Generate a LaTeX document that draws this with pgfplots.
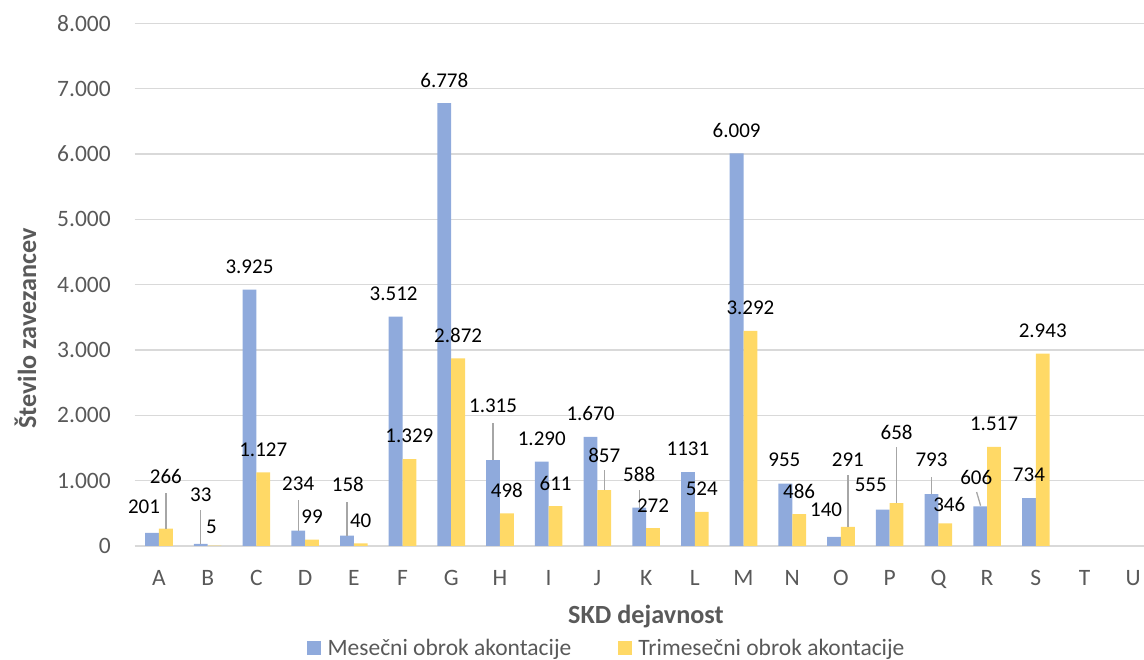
\documentclass[border=0pt]{standalone}
\usepackage{pgfplots}
\usepackage{pgfplotstable}
\pgfplotsset{compat=1.18}
\usepackage{fontspec}
\setmainfont{Carlito}
\definecolor{cblue}{HTML}{8FAADC}
\definecolor{cyellow}{HTML}{FFD966}
\definecolor{tgray}{HTML}{595959}
\definecolor{ggray}{HTML}{D9D9D9}
\definecolor{lgray}{HTML}{A6A6A6}

\pgfplotstableread{
x y lab dx dy
0 201 201 -8 26
1 33 33 0 49
2 3925 3.925 0 23
3 234 234 0 47
4 158 158 1 51
5 3512 3.512 -2 23
6 6778 6.778 0 23
7 1315 1.315 0 54
8 1290 1.290 0 23
9 1670 1.670 0 23
10 588 588 0 33
11 1131 1131 0 23
12 6009 6.009 0 23
13 955 955 -1 24
14 140 140 -8 27
15 555 555 -12 25
16 793 793 0 34
17 606 606 -4 29
18 734 734 0 23
}\mes

\pgfplotstableread{
x y lab dx dy
0 266 266 0 52
1 5 5 -3 19
2 1127 1.127 0 23
3 99 99 0 23
4 40 40 0 23
5 1329 1.329 0 23
6 2872 2.872 0 23
7 498 498 0 23
8 611 611 0 23
9 857 857 0 35
10 272 272 0 23
11 524 524 0 23
12 3292 3.292 0 23
13 486 486 0 23
14 291 291 0 67
15 658 658 0 71
16 346 346 4 19
17 1517 1.517 0 23
18 2943 2.943 0 23
}\tri

\newcommand{\tickfont}{\fontsize{23.5}{28}\selectfont}
\newcommand{\datafont}{\fontsize{21}{25}\selectfont}
\newcommand{\titlefont}{\fontsize{26.2}{31}\selectfont\bfseries}

\begin{document}
\begin{tikzpicture}
\path[use as bounding box] (-134.6pt,-114pt) rectangle (1009.4pt,546pt);
\begin{axis}[
  at={(0pt,0pt)}, anchor=south west,
  scale only axis,
  width=1009.4pt, height=522.6pt,
  clip=false,
  ybar=0pt, bar width=13.8pt,
  xmin=-0.5, xmax=20.22,
  ymin=0, ymax=8000,
  xtick={0,...,20},
  xticklabels={A,B,C,D,E,F,G,H,I,J,K,L,M,N,O,P,Q,R,S,T,U},
  ytick={0,1000,...,8000},
  scaled y ticks=false,
  /pgf/number format/1000 sep={.},
  /pgf/number format/assume math mode=true,
  ymajorgrids,
  grid style={ggray, line width=1.5pt},
  axis line style={draw=none},
  major tick length=0pt,
  tick label style={font=\tickfont, text=tgray},
  yticklabel style={anchor=east, inner sep=0pt, xshift=-23.6pt},
  xticklabel style={anchor=north, inner sep=0pt, yshift=-24pt},
  xlabel={SKD dejavnost},
  ylabel={Število zavezancev},
  xlabel style={at={(axis description cs:0.5066,0)}, anchor=center, yshift=-71pt, font=\titlefont, text=tgray},
  ylabel style={at={(axis description cs:0,0.416)}, anchor=center, yshift=109.1pt, font=\titlefont, text=tgray},
  legend columns=2,
  legend style={at={(axis description cs:0.467,0)}, anchor=center, yshift=-102pt,
    draw=none, fill=none, inner sep=0pt, font=\tickfont, text=tgray,
    nodes={inner sep=0pt},
    /tikz/every odd column/.append style={column sep=6.7pt},
    /tikz/every even column/.append style={column sep=47pt}},
  nodes near coords,
  point meta=explicit symbolic,
  visualization depends on={\thisrow{dx}\as\dx},
  visualization depends on={\thisrow{dy}\as\dy},
  nodes near coords style={font=\datafont, text=black, anchor=center, xshift=\dx pt, yshift=\dy pt},
]
\addplot[fill=cblue, draw=none,
  legend image code/.code={\fill[cblue] (0pt,-6.7pt) rectangle (13.4pt,6.7pt);}]
  table[x=x, y=y, meta=lab] {\mes};
\addplot[fill=cyellow, draw=none,
  legend image code/.code={\fill[cyellow] (0pt,-6.7pt) rectangle (13.4pt,6.7pt);}]
  table[x=x, y=y, meta=lab] {\tri};
\legend{Mesečni obrok akontacije, Trimesečni obrok akontacije}
% leader lines
\begin{scope}[lgray, line width=1.3pt]
\draw ([xshift=-6.9pt]axis cs:1,33) -- ([xshift=-6.9pt,yshift=34pt]axis cs:1,33);
\draw ([xshift=-6.9pt]axis cs:3,234) -- ([xshift=-6.9pt,yshift=31pt]axis cs:3,234);
\draw ([xshift=-6.9pt]axis cs:4,158) -- ([xshift=-6.9pt,yshift=34pt]axis cs:4,158);
\draw ([xshift=-6.9pt]axis cs:7,1315) -- ([xshift=-6.9pt,yshift=37pt]axis cs:7,1315);
\draw ([xshift=-6.9pt]axis cs:10,588) -- ([xshift=-6.9pt,yshift=18pt]axis cs:10,588);
\draw ([xshift=-6.9pt]axis cs:16,793) -- ([xshift=-6.9pt,yshift=17pt]axis cs:16,793);
\draw ([xshift=-6.5pt,yshift=0.7pt]axis cs:17,606) -- ([xshift=-10.5pt,yshift=14.4pt]axis cs:17,606);
\draw ([xshift=6.9pt]axis cs:0,266) -- ([xshift=6.9pt,yshift=36pt]axis cs:0,266);
\draw ([xshift=6.9pt]axis cs:9,857) -- ([xshift=6.9pt,yshift=20pt]axis cs:9,857);
\draw ([xshift=6.9pt]axis cs:14,291) -- ([xshift=6.9pt,yshift=52pt]axis cs:14,291);
\draw ([xshift=6.9pt]axis cs:15,658) -- ([xshift=6.9pt,yshift=56pt]axis cs:15,658);
\end{scope}
\end{axis}
\end{tikzpicture}
\end{document}
